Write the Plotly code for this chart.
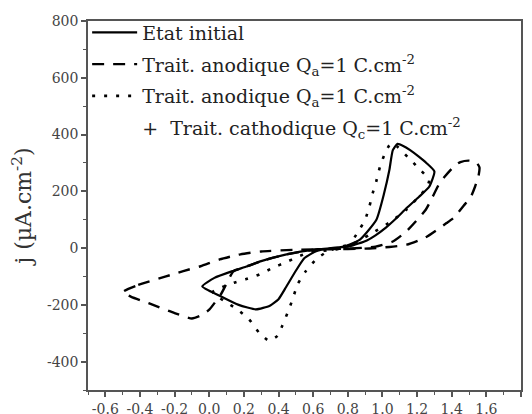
import plotly.graph_objects as go

# Etat initial (solid)
E_init = [-0.04, 0.03, 0.14, 0.22, 0.30, 0.44, 0.63, 0.77, 0.87, 0.965, 1.01, 1.04, 1.06, 1.087,
          1.12, 1.16, 1.21, 1.255, 1.30, 1.27, 1.21, 1.14, 1.08, 1.02, 0.96, 0.91, 0.81, 0.70,
          0.617, 0.55, 0.50, 0.443, 0.40, 0.35, 0.27, 0.17, 0.06, -0.04]
j_init = [-135, -105, -80, -64, -46, -23, -4, 4, 30, 100, 194, 275, 345, 367,
          360, 345, 322, 299, 270, 216, 180, 141, 105, 72, 45, 27, 6, 0,
          -11, -35, -80, -138, -180, -203, -216, -200, -168, -135]

# Trait. anodique (dashed)
E_anod = [-0.50, -0.41, -0.25, -0.15, -0.05, 0.06, 0.18, 0.30, 0.50, 0.70, 0.90, 1.04, 1.14,
          1.25, 1.37, 1.41, 1.47, 1.51, 1.535, 1.555, 1.56, 1.54, 1.50, 1.45, 1.42, 1.36,
          1.33, 1.25, 1.14, 1.06, 0.96, 0.80, 0.63, 0.44, 0.30, 0.22, 0.14, 0.07, 0.00,
          -0.04, -0.10, -0.20, -0.35, -0.45, -0.50]
j_anod = [-155, -130, -100, -81, -64, -40, -22, -12, -6, -4, -2, 4, 12,
          38, 88, 106, 150, 180, 217, 255, 285, 303, 308, 303, 292, 252,
          229, 135, 60, 23, 5, -2, -4, -23, -46, -64, -82, -160, -217,
          -235, -248, -229, -194, -172, -155]

# Trait. anodique + cathodique (dotted)
E_cath = [0.02, 0.076, 0.143, 0.21, 0.29, 0.365, 0.443, 0.51, 0.578, 0.684, 0.78, 0.81, 0.86,
          0.90, 0.925, 0.944, 0.964, 0.985, 1.012, 1.04, 1.06, 1.09, 1.147, 1.20, 1.27, 1.254,
          1.20, 1.138, 1.05, 0.925, 0.838, 0.75, 0.684, 0.617, 0.558, 0.51, 0.481, 0.452,
          0.423, 0.394, 0.346, 0.288, 0.23, 0.162, 0.095, 0.046, 0.02]
j_cath = [-155, -137, -122, -110, -93, -70, -50, -31, -15, -8, 0, 12, 58,
          100, 147, 194, 234, 285, 330, 362, 370, 355, 320, 287, 240, 211,
          175, 135, 94, 47, 18, 3, -11, -40, -81, -128, -181, -228,
          -272, -309, -327, -298, -251, -216, -190, -170, -155]

names = ["Etat initial",
         "Trait. anodique Q<sub>a</sub>=1 C.cm<sup>-2</sup>",
         "Trait. anodique Q<sub>a</sub>=1 C.cm<sup>-2</sup>",
         "+  Trait. cathodique Q<sub>c</sub>=1 C.cm<sup>-2</sup>"]

x_ticks = [-0.6, -0.4, -0.2, 0.0, 0.2, 0.4, 0.6, 0.8, 1.0, 1.2, 1.4, 1.6, 1.8]
x_tick_labels = ["-0.6", "-0.4", "-0.2", "0.0", "0.2", "0.4", "0.6", "0.8", "1.0", "1.2", "1.4", "1.6", "1.8"]
y_ticks = [-400, -200, 0, 200, 400, 600, 800]
y_tick_labels = ["-400", "-200", "0", "200", "400", "600", "800"]

FONT = "DejaVu Serif"

fig = go.Figure()
fig.add_trace(go.Scatter(x=E_init, y=j_init, mode="lines", name=names[0], legendgroup="a",
                         line=dict(color="black", width=2.2, shape="spline", smoothing=0.5)))
fig.add_trace(go.Scatter(x=E_anod, y=j_anod, mode="lines", name=names[1], legendgroup="b",
                         line=dict(color="black", width=2.4, dash="12px,9px", shape="spline", smoothing=0.5)))
fig.add_trace(go.Scatter(x=E_cath, y=j_cath, mode="lines", name=names[2], legendgroup="c",
                         line=dict(color="black", width=2.6, dash="3px,9px", shape="spline", smoothing=0.5)))
fig.add_trace(go.Scatter(x=[None], y=[None], mode="lines", name=names[3], legendgroup="d",
                         line=dict(color="rgba(0,0,0,0)", width=0)))

axis_common = dict(showline=True, linecolor="#555", linewidth=1.5, mirror=True,
                   ticks="outside", ticklen=5, tickwidth=1.5, tickcolor="#555",
                   showgrid=False, zeroline=False, automargin=False,
                   tickfont=dict(family=FONT, size=14, color="#444"))

fig.update_xaxes(range=[-0.7, 1.8], tickvals=x_ticks, ticktext=x_tick_labels,
                 minor=dict(dtick=0.1, ticks="outside", ticklen=3, tickcolor="#555", tickwidth=1.2),
                 **axis_common)
fig.update_yaxes(range=[-500, 800], tickvals=y_ticks, ticktext=y_tick_labels,
                 minor=dict(dtick=100, ticks="outside", ticklen=3, tickcolor="#555", tickwidth=1.2),
                 title=dict(text="j (µA.cm<sup>-2</sup>)", font=dict(family=FONT, size=22, color="#333"),
                            standoff=18),
                 **axis_common)

# page body has an 8px default margin, so the figure is sized to fill the rest of the window
fig.update_layout(
    width=524, height=406,
    margin=dict(l=80, r=11, t=13, b=24, autoexpand=False),
    plot_bgcolor="white", paper_bgcolor="white",
    font=dict(family=FONT, color="#222"),
    legend=dict(x=-0.002, y=1.02, xanchor="left", yanchor="top",
                bgcolor="rgba(0,0,0,0)", borderwidth=0,
                font=dict(family=FONT, size=19, color="#222"),
                itemwidth=45, tracegroupgap=4),
)

fig.write_html("out.html")
